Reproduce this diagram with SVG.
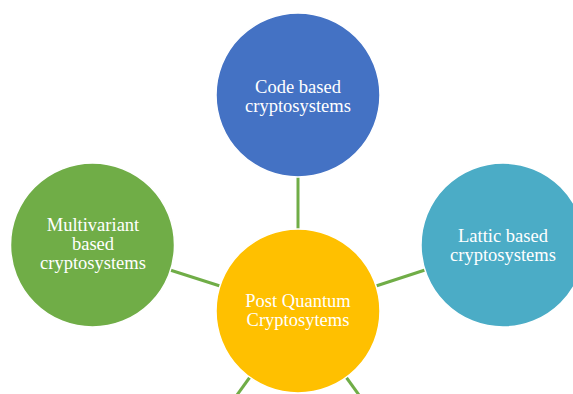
<svg xmlns="http://www.w3.org/2000/svg" width="573" height="394" viewBox="0 0 573 394">
<style>
.bg{fill:#ffffff}
.node circle{stroke:#ffffff;stroke-width:1.5}
.lbl{font-family:"Liberation Serif","Times New Roman",serif;font-size:18.5px;fill:#ffffff;text-anchor:middle}
.conn line{stroke:#70AD47;stroke-width:3;fill:none}
</style>
<rect class="bg" x="0" y="0" width="573" height="394"/>
<g id="connectors" class="conn">
<line x1="298" y1="177" x2="298" y2="229"/>
<line x1="170" y1="270" x2="220" y2="286"/>
<line x1="376" y1="286" x2="425" y2="270"/>
<line x1="250" y1="377" x2="237" y2="395"/>
<line x1="346" y1="377" x2="359" y2="395"/>
</g>
<g id="node-code" class="node">
<circle cx="298" cy="95" r="82" fill="#4472C4"/>
<text class="lbl" x="298" y="93">Code based</text>
<text class="lbl" x="298" y="112">cryptosystems</text>
</g>
<g id="node-multivariant" class="node">
<circle cx="92.5" cy="245" r="82" fill="#70AD47"/>
<text class="lbl" x="93" y="231">Multivariant</text>
<text class="lbl" x="93" y="250">based</text>
<text class="lbl" x="93" y="269">cryptosystems</text>
</g>
<g id="node-lattic" class="node">
<circle cx="503" cy="245" r="82" fill="#4BACC6"/>
<text class="lbl" x="503" y="242">Lattic based</text>
<text class="lbl" x="503" y="261">cryptosystems</text>
</g>
<g id="node-center" class="node">
<circle cx="298" cy="311" r="82" fill="#FFC000"/>
<text class="lbl" x="298" y="307">Post Quantum</text>
<text class="lbl" x="298" y="326">Cryptosytems</text>
</g>
</svg>
